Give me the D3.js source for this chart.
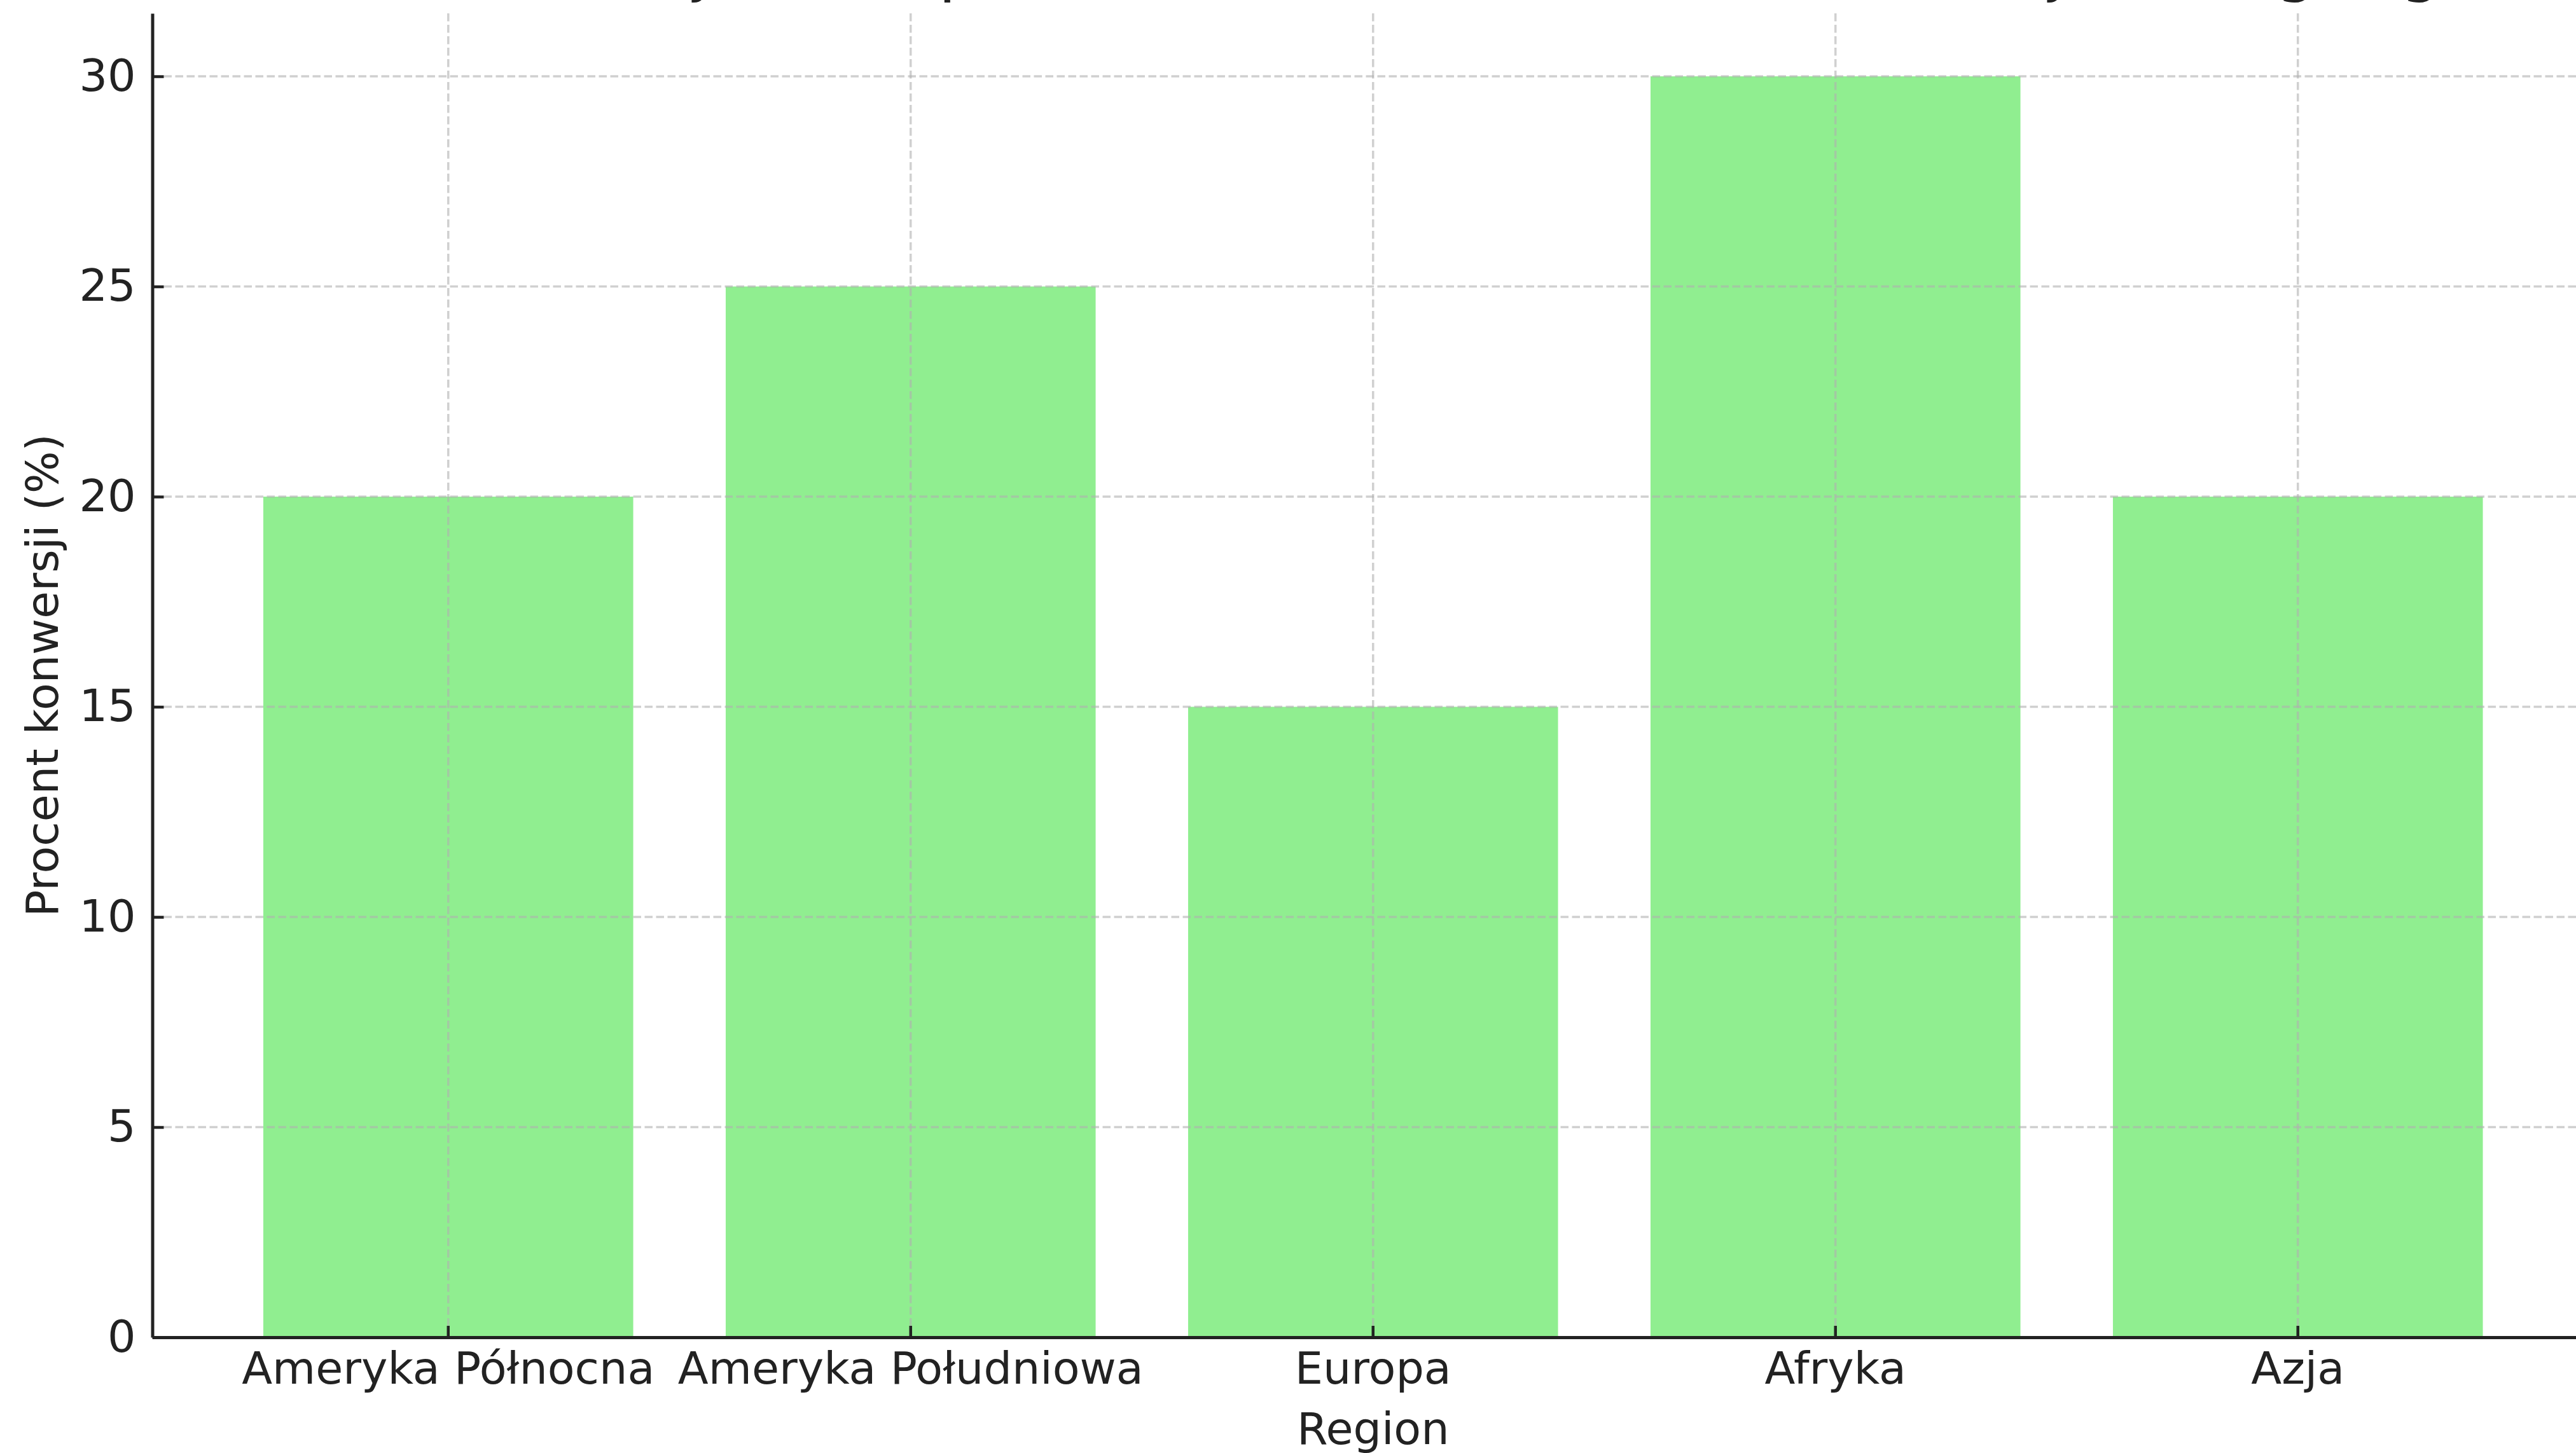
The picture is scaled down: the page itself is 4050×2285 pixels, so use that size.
<!DOCTYPE html>
<html>
<head>
<meta charset="utf-8">
<script src="https://cdn.jsdelivr.net/npm/d3@7"></script>
<style>
  body { margin: 0; background: #fff; }
  text { font-family: "DejaVu Sans", sans-serif; fill: #222; }
</style>
</head>
<body>
<div id="chart"></div>
<script>
// Dane wykresu
const regiony = ["Ameryka Północna", "Ameryka Południowa", "Europa", "Afryka", "Azja"];
const konwersje = [20, 25, 15, 30, 20];
const yTicks = [0, 5, 10, 15, 20, 25, 30];
const tytul = "Procent konwersji z kampanii online na stronie internetowej według regionu";

// Rozmiar i obszar wykresu
const width = 4050;
const height = 2285;
const plotLeft = 239.5;
const plotRight = 4078;
const plotTop = 20.9;
const plotBottom = 2103;
const fontSize = 70;

const x = d3.scaleBand()
    .domain(regiony)
    .range([plotLeft, plotRight])
    .paddingInner(0.2)
    .paddingOuter(0.24);

const y = d3.scaleLinear()
    .domain([0, 31.5])
    .range([plotBottom, plotTop]);

const svg = d3.select("#chart")
    .append("svg")
    .attr("width", width)
    .attr("height", height);

svg.append("rect")
    .attr("width", width)
    .attr("height", height)
    .attr("fill", "#fff");

// Słupki
svg.append("g")
    .selectAll("rect")
    .data(regiony)
    .enter().append("rect")
    .attr("x", d => x(d))
    .attr("y", (d, i) => y(konwersje[i]))
    .attr("width", x.bandwidth())
    .attr("height", (d, i) => y(0) - y(konwersje[i]))
    .attr("fill", "#90ee90");

// Siatka (nad słupkami)
const grid = svg.append("g")
    .attr("stroke", "#b0b0b0")
    .attr("stroke-opacity", 0.6)
    .attr("stroke-width", 3.5)
    .attr("stroke-dasharray", "12.5,5.5");

grid.selectAll("line.h")
    .data(yTicks)
    .enter().append("line")
    .attr("class", "h")
    .attr("x1", plotLeft)
    .attr("x2", plotRight)
    .attr("y1", d => y(d))
    .attr("y2", d => y(d));

grid.selectAll("line.v")
    .data(regiony)
    .enter().append("line")
    .attr("class", "v")
    .attr("x1", d => x(d) + x.bandwidth() / 2)
    .attr("x2", d => x(d) + x.bandwidth() / 2)
    .attr("y1", plotTop)
    .attr("y2", plotBottom);

// Osie
const yAxis = d3.axisLeft(y)
    .tickValues(yTicks)
    .tickSizeInner(-18)
    .tickSizeOuter(0)
    .tickPadding(26);

const xAxis = d3.axisBottom(x)
    .tickSizeInner(-18)
    .tickSizeOuter(0)
    .tickPadding(23);

const gy = svg.append("g")
    .attr("transform", `translate(${plotLeft},0)`)
    .call(yAxis);

const gx = svg.append("g")
    .attr("transform", `translate(0,${plotBottom})`)
    .call(xAxis);

[gx, gy].forEach(g => {
    g.select(".domain").attr("stroke", "#222").attr("stroke-width", 5);
    g.selectAll(".tick line").attr("stroke", "#222").attr("stroke-width", 4.5);
    g.selectAll(".tick text")
        .attr("font-family", "DejaVu Sans")
        .attr("font-size", fontSize)
        .attr("fill", "#222");
});

gx.selectAll(".tick text").attr("dy", "0.71em");

// Podpisy osi
svg.append("text")
    .attr("x", (plotLeft + plotRight) / 2)
    .attr("y", 2271)
    .attr("text-anchor", "middle")
    .attr("font-size", fontSize)
    .text("Region");

svg.append("text")
    .attr("transform", `translate(91,${(plotTop + plotBottom) / 2}) rotate(-90)`)
    .attr("text-anchor", "middle")
    .attr("font-size", fontSize)
    .text("Procent konwersji (%)");

// Tytuł (ucięty u góry, widać tylko dolne końcówki liter)
svg.append("text")
    .attr("x", (plotLeft + plotRight) / 2)
    .attr("y", -17)
    .attr("text-anchor", "middle")
    .attr("font-size", 100)
    .text(tytul);
</script>
</body>
</html>
